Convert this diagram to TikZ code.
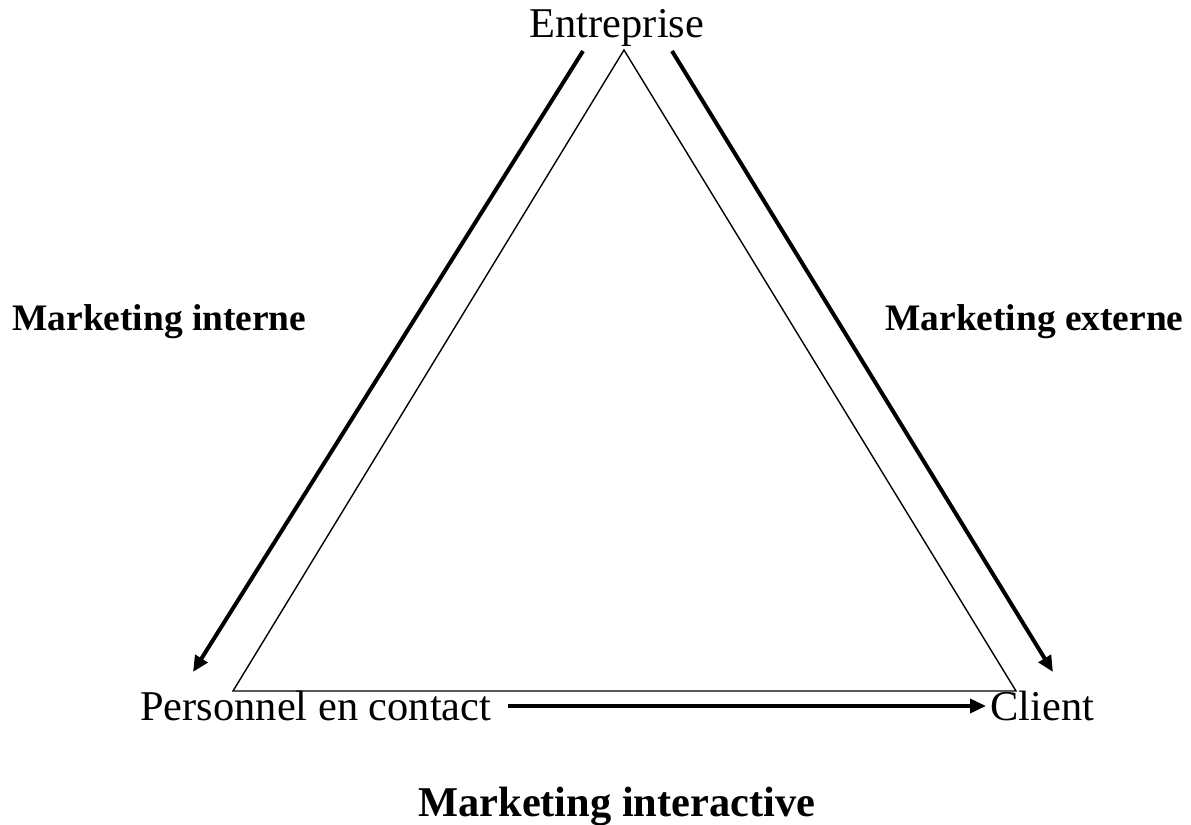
\documentclass[tikz,border=0pt]{standalone}
\usepackage{fontspec}
\setmainfont{Liberation Serif}
\usetikzlibrary{arrows.meta}

\begin{document}
\begin{tikzpicture}[x=0.5pt, y=-0.5pt]
		\tikzstyle{lbl} = [inner sep=0pt, font=\fontsize{21.2}{25}\selectfont]
		\tikzstyle{side} = [inner sep=0pt, font=\fontsize{18.7}{22}\selectfont\bfseries]
		\tikzstyle{big} = [inner sep=0pt, font=\fontsize{21.2}{25}\selectfont\bfseries]
		\tikzstyle{flow} = [line width=2pt, -{Triangle[length=8pt, width=7pt]}]
		
		\useasboundingbox (0,0) rectangle (1191,825);
		
		\node [lbl, anchor=base] (E) at (617,37) {Entreprise};
		\node [lbl, anchor=base west] (P) at (140,720) {Personnel en contact};
		\node [lbl, anchor=base west] (C) at (990,720) {Client};
		
		\coordinate (tE) at (624,50);
		\coordinate (tP) at (233,691);
		\coordinate (tC) at (1016,691);
		\draw [line width=0.7pt] (tE) -- (tP) -- (tC) -- cycle;
		
		\coordinate (iA) at (583,51);
		\coordinate (iB) at (193,672);
		\coordinate (eA) at (672,51);
		\coordinate (eB) at (1053,672);
		\draw [flow] (iA) to (iB);
		\draw [flow] (eA) to (eB);
		\draw [flow, line width=1.8pt] ([xshift=8pt]P.east |- 0,706) to ([xshift=-2pt]C.west |- 0,706);
		
		\node [side, anchor=base west] (MI) at (12,330) {Marketing interne};
		\node [side, anchor=base west] (ME) at (885,330) {Marketing externe};
		\node [big, anchor=base west] (MA) at (418,816) {Marketing interactive};
	\end{tikzpicture}
\end{document}
